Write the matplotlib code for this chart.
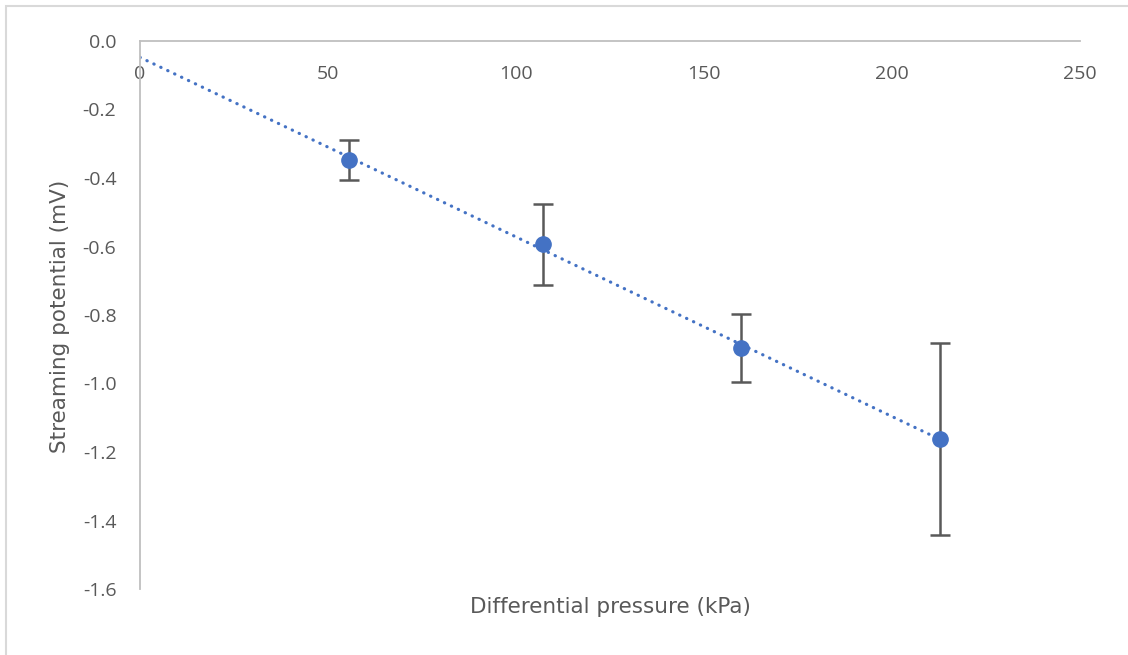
import numpy as np
import matplotlib.pyplot as plt
from matplotlib.patches import Rectangle

# Measured streaming potential against differential pressure
pressure_kpa = [55.6, 107.2, 159.8, 212.8]
potential_mv = [-0.347, -0.593, -0.896, -1.162]
potential_err = [0.058, 0.118, 0.100, 0.280]

x_ticks = [0, 50, 100, 150, 200, 250]
y_ticks = [0.0, -0.2, -0.4, -0.6, -0.8, -1.0, -1.2, -1.4, -1.6]

blue = "#4472C4"
grey_text = "#595959"
axis_grey = "#BFBFBF"

fig = plt.figure(figsize=(11.28, 6.55), dpi=100)
fig.patches.append(Rectangle((6 / 1128, -0.05), 1.1, 1 - 6 / 655 + 0.05,
                             transform=fig.transFigure, fill=False,
                             edgecolor="#D9D9D9", linewidth=1.5))

ax = fig.add_axes([140 / 1128, 1 - 589 / 655, 940 / 1128, 548 / 655])
ax.set_xlim(0, 250)
ax.set_ylim(-1.6, 0)

# Linear trendline fitted to the measurements
slope, intercept = np.polyfit(pressure_kpa, potential_mv, 1)
xs = np.array([0, max(pressure_kpa)])
ax.plot(xs, slope * xs + intercept, color=blue, lw=2.3,
        linestyle=(0, (0.1, 2.3)), dash_capstyle="round", zorder=2)

ax.errorbar(pressure_kpa, potential_mv, yerr=potential_err, fmt="none",
            ecolor=grey_text, elinewidth=1.8, capsize=7, capthick=1.8, zorder=3)
ax.plot(pressure_kpa, potential_mv, "o", color=blue, markersize=11, zorder=4)

for side in ("right", "top"):
    ax.spines[side].set_visible(False)
ax.spines["bottom"].set_position(("data", 0))
for side in ("bottom", "left"):
    ax.spines[side].set_color(axis_grey)
    ax.spines[side].set_linewidth(1.3)

ax.set_xticks(x_ticks)
ax.set_yticks(y_ticks)
ax.set_xticklabels([str(v) for v in x_ticks])
ax.set_yticklabels([f"{v:.1f}" for v in y_ticks])
ax.tick_params(axis="both", length=0, labelsize=14, labelcolor=grey_text)
ax.tick_params(axis="x", pad=17)
ax.tick_params(axis="y", pad=17)
for lbl in ax.get_xticklabels() + ax.get_yticklabels():
    lbl.set_fontfamily("Open Sans")

fig.text(610 / 1128, 1 - 607 / 655, "Differential pressure (kPa)",
         ha="center", va="center", fontsize=15.5, color=grey_text,
         family="DejaVu Sans")
fig.text(60 / 1128, 1 - 316 / 655, "Streaming potential (mV)",
         ha="center", va="center", rotation=90, fontsize=15.5, color=grey_text,
         family="DejaVu Sans")

fig.savefig("out.png", dpi=100)
